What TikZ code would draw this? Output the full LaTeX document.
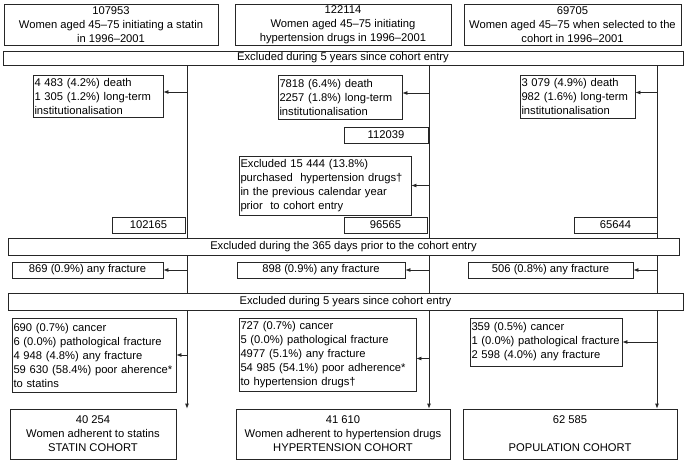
\documentclass[tikz,border=0pt]{standalone}
\usepackage{fontspec}
\setmainfont{Liberation Sans}
\usetikzlibrary{positioning, arrows.meta}

\begin{document}
\begin{tikzpicture}
    [
        x=1pt, y=-1pt,
        every node/.style={font=\fontsize{11.2}{14}\selectfont},
        base_box/.style={rectangle, draw=black!85, line width=0.8pt, fill=white, inner sep=0pt},
        count_box/.style={base_box, align=center},
        list_box/.style={base_box, align=left, inner xsep=1.5pt},
        flow_line/.style={line width=0.8pt, color=black!85},
        flow_arrow/.style={flow_line, -{Latex[length=5pt, width=4pt]}},
    ]
        \useasboundingbox (0,0) rectangle (686,463);
        % starting populations
        \node[count_box, minimum width=214pt, minimum height=41pt] (top_statin) at (111,24.5) {107953\\Women aged 45–75 initiating a statin\\in 1996–2001};
        \node[count_box, minimum width=216pt, minimum height=41pt] (top_hyper) at (343,24.5) {122114\\Women aged 45–75 initiating\\hypertension drugs in 1996–2001};
        \node[count_box, minimum width=217pt, minimum height=41pt] (top_pop) at (572.5,24.5) {69705\\Women aged 45–75 when selected to the\\cohort in 1996–2001};
        \node[count_box, minimum width=680pt, minimum height=14pt] (excl_five_a) at (343,58) {Excluded during 5 years since cohort entry};
        % first exclusions
        \node[list_box, text width=127pt, minimum height=42pt] (death_statin) at (98,96) {4 483 (4.2\%) death\\1 305 (1.2\%) long-term\\institutionalisation};
        \node[list_box, text width=121pt, minimum height=44pt] (death_hyper) at (340,97) {7818 (6.4\%) death\\2257 (1.8\%) long-term\\institutionalisation};
        \node[list_box, text width=112pt, minimum height=43pt] (death_pop) at (577.5,96.5) {3 079 (4.9\%) death\\982 (1.6\%) long-term\\institutionalisation};
        \node[count_box, minimum width=84pt, minimum height=16pt] (n_hyper_a) at (386,135) {112039};
        \node[list_box, text width=169pt, minimum height=59pt] (purch_hyper) at (325,185.5) {Excluded 15 444 (13.8\%)\\purchased\ \ hypertension drugs†\\in the previous calendar year\\prior\ \ to cohort entry};
        \node[count_box, minimum width=73pt, minimum height=16pt] (n_statin_b) at (148.5,225) {102165};
        \node[count_box, minimum width=83pt, minimum height=16pt] (n_hyper_b) at (385.5,225) {96565};
        \node[count_box, minimum width=83pt, minimum height=16pt] (n_pop_b) at (615.5,225) {65644};
        \node[count_box, minimum width=671pt, minimum height=17pt] (excl_year) at (343.5,246.5) {Excluded during the 365 days prior to the cohort entry};
        % fractures before entry
        \node[count_box, minimum width=151pt, minimum height=16pt] (frac_statin) at (87.5,270) {869 (0.9\%) any fracture};
        \node[count_box, minimum width=168pt, minimum height=16pt] (frac_hyper) at (321,270) {898 (0.9\%) any fracture};
        \node[count_box, minimum width=165pt, minimum height=16pt] (frac_pop) at (550.5,270) {506 (0.8\%) any fracture};
        \node[count_box, minimum width=675pt, minimum height=17pt] (excl_five_b) at (345.5,301.5) {Excluded during 5 years since cohort entry};
        % follow-up exclusions
        \node[list_box, text width=161pt, minimum height=74pt] (canc_statin) at (94,355) {690 (0.7\%) cancer\\6 (0.0\%) pathological fracture\\4 948 (4.8\%) any fracture\\59 630 (58.4\%) poor aherence*\\to statins};
        \node[list_box, text width=174pt, minimum height=73pt] (canc_hyper) at (327.5,354.5) {727 (0.7\%) cancer\\5 (0.0\%) pathological fracture\\4977 (5.1\%) any fracture\\54 985 (54.1\%) poor adherence*\\to hypertension drugs†};
        \node[list_box, text width=149pt, minimum height=48pt] (canc_pop) at (546,342) {359 (0.5\%) cancer\\\mbox{1 (0.0\%) pathological fracture}\\2 598 (4.0\%) any fracture};
        % final cohorts
        \node[count_box, minimum width=166pt, minimum height=50pt] (coh_statin) at (93,434) {40 254\\Women adherent to statins\\STATIN COHORT};
        \node[count_box, minimum width=214pt, minimum height=50pt] (coh_hyper) at (343,434) {41 610\\Women adherent to hypertension drugs\\HYPERTENSION COHORT};
        \node[count_box, minimum width=214pt, minimum height=50pt] (coh_pop) at (570,434) {62 585\\[14pt]POPULATION COHORT};
        \coordinate (line_statin) at (187,0);
        \coordinate (line_hyper) at (429,0);
        \coordinate (line_pop) at (657,0);
        \draw[flow_line] (line_statin |- excl_five_a.south) -- (line_statin |- excl_year.north);
        \draw[flow_line] (line_statin |- excl_year.south) -- (line_statin |- excl_five_b.north);
        \draw[flow_arrow] (line_statin |- excl_five_b.south) -- (line_statin |- coh_statin.north);
        \draw[flow_line] (line_hyper |- excl_five_a.south) -- (line_hyper |- excl_year.north);
        \draw[flow_line] (line_hyper |- excl_year.south) -- (line_hyper |- excl_five_b.north);
        \draw[flow_arrow] (line_hyper |- excl_five_b.south) -- (line_hyper |- coh_hyper.north);
        \draw[flow_line] (line_pop |- excl_five_a.south) -- (line_pop |- excl_year.north);
        \draw[flow_line] (line_pop |- excl_year.south) -- (line_pop |- excl_five_b.north);
        \draw[flow_arrow] (line_pop |- excl_five_b.south) -- (line_pop |- coh_pop.north);
        \draw[flow_arrow] ([yshift=4pt]line_statin |- death_statin.east) -- ([yshift=4pt]death_statin.east);
        \draw[flow_arrow] ([yshift=4pt]line_hyper |- death_hyper.east) -- ([yshift=4pt]death_hyper.east);
        \draw[flow_arrow] ([yshift=4pt]line_pop |- death_pop.east) -- ([yshift=4pt]death_pop.east);
        \draw[flow_arrow] (line_hyper |- purch_hyper.east) -- (purch_hyper.east);
        \draw[flow_arrow] (line_statin |- frac_statin.east) -- (frac_statin.east);
        \draw[flow_arrow] (line_hyper |- frac_hyper.east) -- (frac_hyper.east);
        \draw[flow_arrow] (line_pop |- frac_pop.east) -- (frac_pop.east);
        \draw[flow_arrow] (line_statin |- canc_statin.east) -- (canc_statin.east);
        \draw[flow_arrow] ([yshift=-4pt]line_hyper |- canc_hyper.east) -- ([yshift=-4pt]canc_hyper.east);
        \draw[flow_arrow] (line_pop |- canc_pop.east) -- (canc_pop.east);
    \end{tikzpicture}
\end{document}
